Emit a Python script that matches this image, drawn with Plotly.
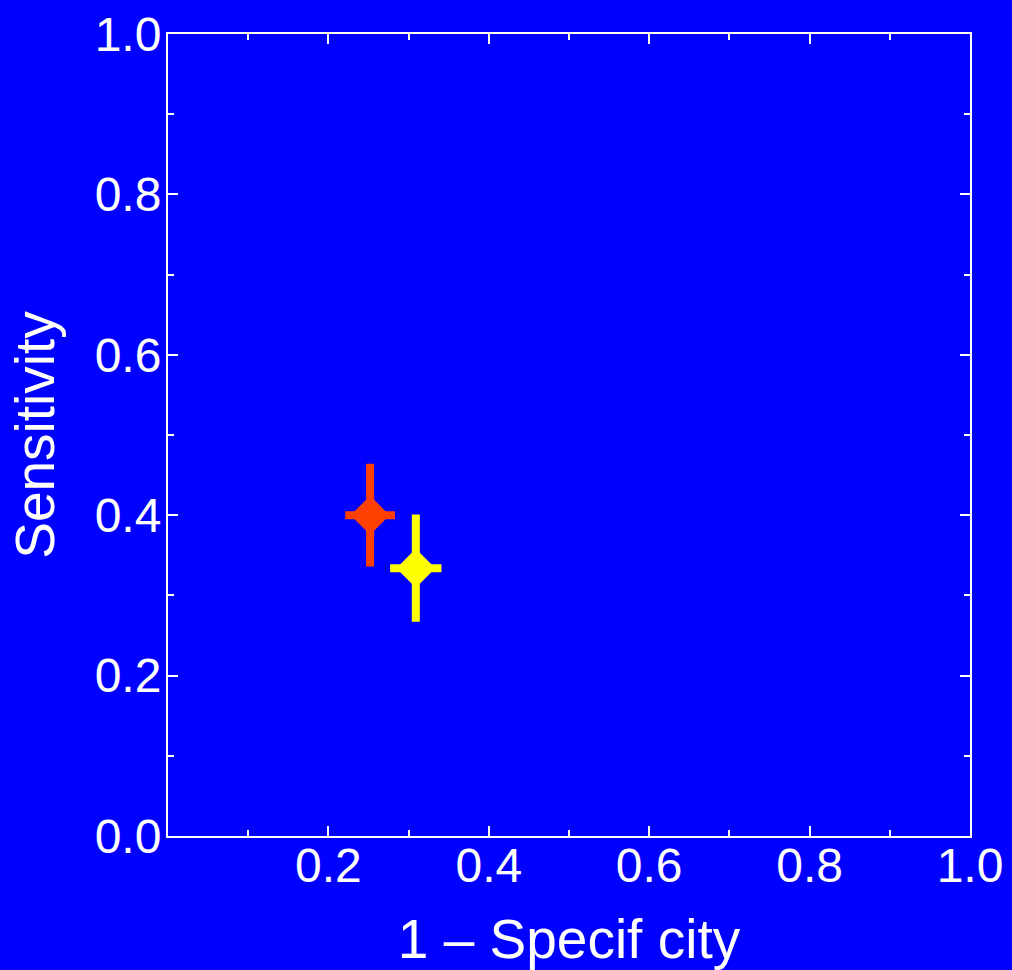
import plotly.graph_objects as go

# Data
series_names = ["Test A", "Test B"]
fpr = [0.252, 0.309]          # 1 - specificity
sens = [0.400, 0.334]         # sensitivity
fpr_err = [0.031, 0.032]
sens_err = [0.064, 0.067]
colors = ["#FF4000", "#FFFF00"]

x_ticks = [0.2, 0.4, 0.6, 0.8, 1.0]
x_ticklabels = ["0.2", "0.4", "0.6", "0.8", "1.0"]
y_ticks = [0.0, 0.2, 0.4, 0.6, 0.8, 1.0]
y_ticklabels = ["0.0", "0.2", "0.4", "0.6", "0.8", "1.0"]
minor_vals = [0.1, 0.3, 0.5, 0.7, 0.9]

fig = go.Figure()
for i in range(len(fpr)):
    fig.add_trace(go.Scatter(
        x=[fpr[i]], y=[sens[i]], mode="markers", name=series_names[i],
        marker=dict(symbol="diamond", size=30, color=colors[i], line=dict(width=0)),
        error_x=dict(type="constant", value=fpr_err[i], color=colors[i], thickness=8, width=0),
        error_y=dict(type="constant", value=sens_err[i], color=colors[i], thickness=8, width=0),
        showlegend=False,
    ))

tick_font = dict(family="Liberation Sans, Arial, sans-serif", color="white", size=48)
title_font = dict(family="Liberation Sans, Arial, sans-serif", color="white", size=55)
axis_common = dict(
    showgrid=False, zeroline=False, showline=True, linecolor="white", linewidth=2,
    mirror="allticks", ticks="inside", ticklen=10, tickwidth=2, tickcolor="white",
    tickfont=tick_font, automargin=False,
    minor=dict(tickvals=minor_vals, ticks="inside", ticklen=6, tickwidth=2, tickcolor="white"),
)
fig.update_xaxes(range=[0, 1], tickmode="array", tickvals=x_ticks, ticktext=x_ticklabels,
                 ticklabelstandoff=-14,
                 title=dict(text="1 – Specif city", font=title_font, standoff=36), **axis_common)
fig.update_yaxes(range=[0, 1], tickmode="array", tickvals=y_ticks, ticktext=y_ticklabels,
                 ticklabelstandoff=-5,
                 title=dict(text="Sensitivity", font=title_font, standoff=22), **axis_common)

fig.update_layout(
    width=1012, height=970,
    paper_bgcolor="#0000FF", plot_bgcolor="#0000FF",
    margin=dict(l=168, r=42, t=34, b=134, autoexpand=False),
    font=tick_font,
)
fig.write_html("out.html", config={"displayModeBar": False},
               post_script="document.body.style.margin='0';")
